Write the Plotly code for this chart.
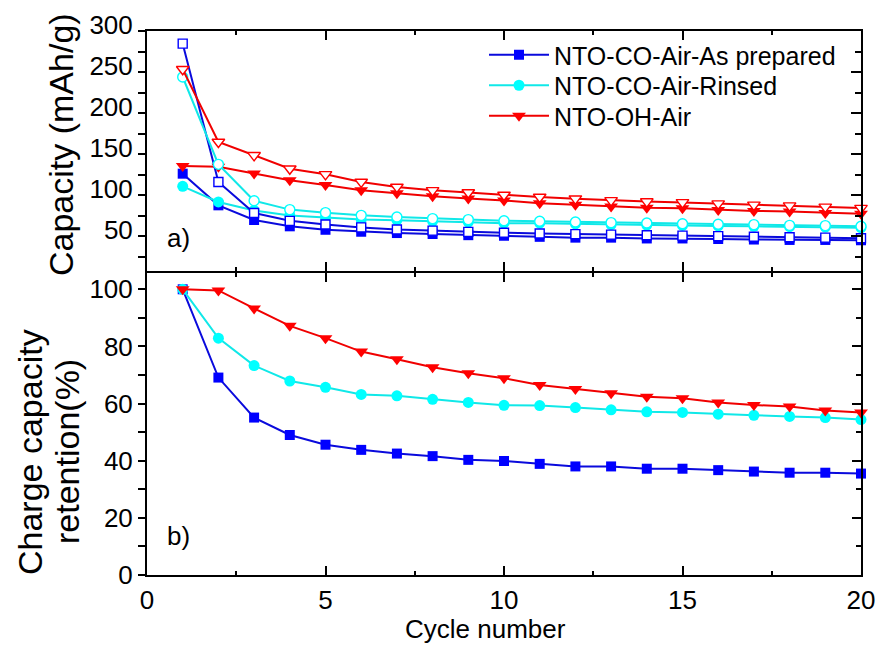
import plotly.graph_objects as go

# ---------------- data ----------------
cycles = list(range(1, 21))

# top panel: specific capacity (mAh/g); filled = charge, open = discharge
cap_blue_charge = [126, 87.4, 69.5, 61.8, 57.6, 55.2, 53.6, 52.4, 51.0, 50.3,
                   49.0, 48.0, 48.0, 47.0, 47.0, 46.3, 45.7, 45.2, 45.2, 44.8]
cap_blue_disch = [284.6, 115.9, 78.0, 68.5, 64.0, 60.5, 58.0, 56.5, 55.0, 54.0,
                  53.0, 52.3, 51.7, 51.0, 50.5, 49.8, 49.0, 48.4, 48.0, 47.2]
cap_cyan_charge = [110.6, 91.5, 81.2, 75.1, 72.7, 70.0, 69.3, 68.0, 66.8, 65.7,
                   65.6, 64.8, 63.9, 63.2, 62.9, 62.3, 61.8, 61.4, 60.9, 60.2]
cap_cyan_disch = [243.9, 137.4, 93.0, 82.2, 78.5, 75.2, 73.2, 71.2, 70.0, 68.6,
                  67.9, 67.1, 66.3, 65.9, 65.0, 64.3, 63.9, 63.0, 62.7, 61.8]
cap_red_charge = [135.4, 134.5, 126.3, 118.0, 112.2, 105.9, 102.2, 98.4, 95.6, 93.3,
                  90.0, 88.1, 86.1, 84.5, 83.8, 81.8, 80.6, 79.9, 78.0, 77.0]
cap_red_disch = [253.3, 164.6, 148.4, 132.0, 125.2, 115.9, 109.8, 105.7, 103.0, 100.0,
                 97.5, 95.5, 93.5, 92.0, 91.0, 89.5, 88.0, 87.0, 85.5, 84.0]

# bottom panel: charge capacity retention (%)
ret_blue = [100, 69.1, 55.1, 49.0, 45.6, 43.8, 42.5, 41.6, 40.3, 39.9,
            38.9, 38.0, 38.0, 37.2, 37.2, 36.7, 36.2, 35.8, 35.8, 35.5]
ret_cyan = [100, 82.9, 73.3, 67.9, 65.7, 63.2, 62.7, 61.5, 60.4, 59.4,
            59.3, 58.6, 57.8, 57.1, 56.9, 56.3, 55.9, 55.5, 55.1, 54.4]
ret_red = [100, 99.6, 93.3, 87.2, 82.9, 78.2, 75.5, 72.7, 70.6, 68.9,
           66.5, 65.1, 63.6, 62.4, 61.9, 60.4, 59.5, 59.0, 57.6, 56.9]

names = ["NTO-CO-Air-As prepared", "NTO-CO-Air-Rinsed", "NTO-OH-Air"]
y_tick_top = [50, 100, 150, 200, 250, 300]
y_tick_bot = [0, 20, 40, 60, 80, 100]
x_ticks = [0, 5, 10, 15, 20]

# ---------------- style ----------------
FONT = "Liberation Sans, Arial, sans-serif"
BLUE, BLUE_L = "#0000FF", "#0A0ADC"
CYAN, CYAN_L = "#00FFFF", "#10E8E8"
RED, RED_L = "#FF0000", "#F00000"

series = [
    (cap_blue_charge, cap_blue_disch, ret_blue, BLUE, BLUE_L, "square", 10),
    (cap_cyan_charge, cap_cyan_disch, ret_cyan, CYAN, CYAN_L, "circle", 11),
    (cap_red_charge, cap_red_disch, ret_red, RED, RED_L, "triangle-down", 12),
]
legend_ids = ["legend", "legend2", "legend3"]

fig = go.Figure()

# filled (charge) first, open (discharge) drawn on top
for (chg, dis, ret, mc, lc, sym, sz) in series:
    fig.add_trace(go.Scatter(
        x=cycles, y=chg, xaxis="x", yaxis="y", mode="lines+markers",
        line=dict(color=lc, width=2), showlegend=False,
        marker=dict(symbol=sym, size=sz, color=mc, line=dict(width=0)),
        cliponaxis=False))
for (chg, dis, ret, mc, lc, sym, sz) in series:
    fig.add_trace(go.Scatter(
        x=cycles, y=dis, xaxis="x", yaxis="y", mode="lines+markers",
        line=dict(color=lc, width=2), showlegend=False,
        marker=dict(symbol=sym, size=sz - 1, color="white", line=dict(color=mc, width=1.4)),
        cliponaxis=False))
for (chg, dis, ret, mc, lc, sym, sz), nm, lg in zip(series, names, legend_ids):
    fig.add_trace(go.Scatter(
        x=cycles, y=ret, xaxis="x2", yaxis="y2", mode="lines+markers", name=nm,
        legend=lg, line=dict(color=lc, width=2),
        marker=dict(symbol=sym, size=sz, color=mc, line=dict(width=0)),
        cliponaxis=False))

# invisible traces to activate the right-side tick axes
fig.add_trace(go.Scatter(x=[None], y=[None], xaxis="x", yaxis="y3", showlegend=False, hoverinfo="skip"))
fig.add_trace(go.Scatter(x=[None], y=[None], xaxis="x2", yaxis="y4", showlegend=False, hoverinfo="skip"))

H = 544.0  # plot-area height in px (top 31 .. bottom 575)
bot_dom = [0, 302 / H]
top_dom = [304 / H, 1]
top_range = [300 - 240 / 0.82, 300]
bot_range = [0, 105.7]

tick = dict(tickwidth=1.5, tickcolor="black")
xcommon = dict(range=[0, 20], tickvals=x_ticks, ticks="inside", ticklen=9, **tick,
               showline=True, linewidth=2, linecolor="black", automargin=False,
               mirror="ticks", showgrid=False, zeroline=False,
               minor=dict(ticks="inside", ticklen=4, dtick=2.5, tick0=0, **tick))


def leg(yc):
    return dict(x=(489 - 5 - 147) / 714, y=(575 - yc) / H, xanchor="left", yanchor="middle",
                font=dict(size=25, family=FONT), itemwidth=60,
                bgcolor="rgba(0,0,0,0)", borderwidth=0)


fig.update_layout(
    width=877, height=645,
    margin=dict(l=147, r=16, t=31, b=70, autoexpand=False),
    paper_bgcolor="white", plot_bgcolor="white",
    font=dict(family=FONT, color="black", size=26),
    showlegend=True,
    legend=leg(55), legend2=leg(85.5), legend3=leg(116),
    xaxis=dict(anchor="y", domain=[0, 1], showticklabels=False, **xcommon),
    xaxis2=dict(anchor="y2", domain=[0, 1], showticklabels=True,
                tickfont=dict(size=26), ticklabelstandoff=1, **xcommon),
    yaxis=dict(domain=top_dom, anchor="x", range=top_range, tickvals=y_tick_top,
               ticks="outside", ticklen=7, **tick, automargin=False,
               showline=True, linewidth=2, linecolor="black", mirror=True,
               showgrid=False, zeroline=False, tickfont=dict(size=26), ticklabelshift=-6,
               minor=dict(ticks="outside", ticklen=7, dtick=25, tick0=0, **tick)),
    yaxis2=dict(domain=bot_dom, anchor="x2", range=bot_range, tickvals=y_tick_bot,
                ticks="outside", ticklen=7, **tick, automargin=False,
                showline=True, linewidth=2, linecolor="black", mirror=True,
                showgrid=False, zeroline=False, tickfont=dict(size=26),
                minor=dict(ticks="outside", ticklen=7, dtick=10, tick0=0, **tick)),
    yaxis3=dict(overlaying="y", side="right", anchor="x", range=top_range, tickvals=y_tick_top,
                ticks="inside", ticklen=10, **tick, automargin=False,
                showticklabels=False, showline=False, showgrid=False, zeroline=False,
                minor=dict(ticks="inside", ticklen=6, dtick=25, tick0=0, **tick)),
    yaxis4=dict(overlaying="y2", side="right", anchor="x2", range=bot_range, tickvals=y_tick_bot,
                ticks="inside", ticklen=9, **tick, automargin=False,
                showticklabels=False, showline=False, showgrid=False, zeroline=False,
                minor=dict(ticks="inside", ticklen=5, dtick=10, tick0=0, **tick)),
)

fig.add_annotation(text="a)", xref="x", yref="y", x=0.5, y=47.2, xanchor="left", yanchor="middle",
                   showarrow=False, font=dict(size=26))
fig.add_annotation(text="b)", xref="x2", yref="y2", x=0.5, y=13.5, xanchor="left", yanchor="middle",
                   showarrow=False, font=dict(size=26))
fig.add_annotation(text="Capacity (mAh/g)", xref="paper", yref="paper",
                   x=(61 - 147) / 714, y=(575 - 145) / H, textangle=-90,
                   xanchor="center", yanchor="middle", showarrow=False, font=dict(size=34))
fig.add_annotation(text="Charge capacity", xref="paper", yref="paper",
                   x=(30 - 147) / 714, y=(575 - 452) / H, textangle=-90,
                   xanchor="center", yanchor="middle", showarrow=False, font=dict(size=34))
fig.add_annotation(text="retention(%)", xref="paper", yref="paper",
                   x=(67 - 147) / 714, y=(575 - 452) / H, textangle=-90,
                   xanchor="center", yanchor="middle", showarrow=False, font=dict(size=34))
fig.add_annotation(text="Cycle number", xref="paper", yref="paper",
                   x=(485 - 147) / 714, y=(575 - 629) / H,
                   xanchor="center", yanchor="middle", showarrow=False, font=dict(size=26))

fig.write_html("out.html")
